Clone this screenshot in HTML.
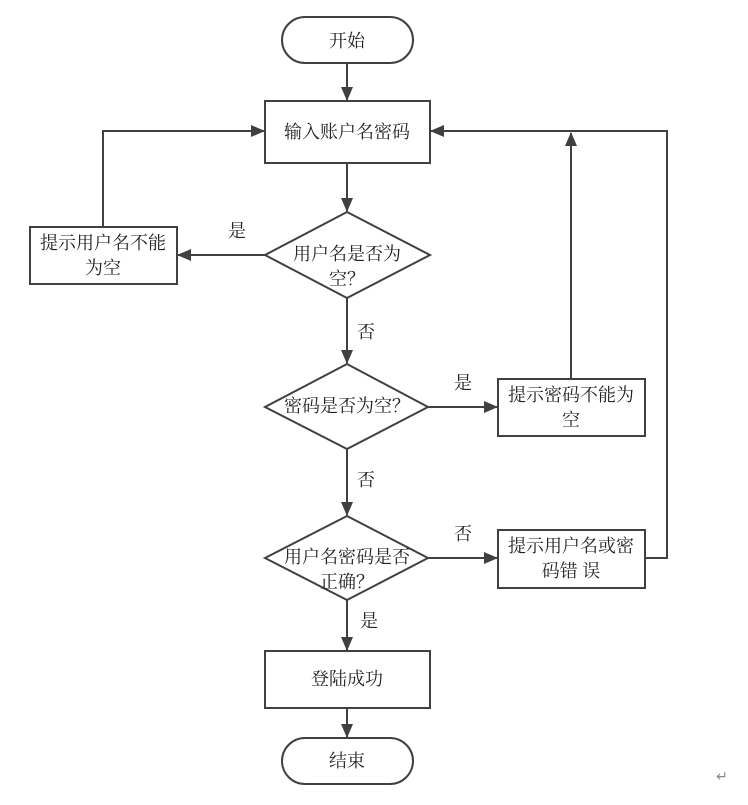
<!DOCTYPE html>
<html><head><meta charset="utf-8"><style>
body{margin:0;background:#fff;}
svg text{font-family:"Liberation Serif","Noto Serif CJK SC","Noto Sans CJK SC",serif;font-size:18px;fill:#222;}
</style></head><body>
<svg width="748" height="800" viewBox="0 0 748 800" xmlns="http://www.w3.org/2000/svg">
<defs><marker id="a" markerWidth="14" markerHeight="12" refX="13" refY="6" orient="auto" markerUnits="userSpaceOnUse"><path d="M0,0L14,6L0,12z" fill="#404040"/></marker></defs>
<g stroke="#404040" stroke-width="2" fill="none">
<rect x="282" y="17" width="131" height="46" rx="23"/>
<rect x="265" y="101" width="165" height="62"/>
<polygon points="347,212 430,255 347,298 265,255"/>
<rect x="30" y="227" width="147" height="57"/>
<polygon points="347,364 428,407 347,449 265,407"/>
<rect x="498" y="379" width="147" height="57"/>
<polygon points="347,516 428,558 347,600 265,558"/>
<rect x="498" y="530" width="147" height="58"/>
<rect x="265" y="651" width="165" height="57"/>
<rect x="282" y="738" width="131" height="46" rx="23"/>
<line x1="347" y1="63" x2="347" y2="100" marker-end="url(#a)"/>
<line x1="347" y1="163" x2="347" y2="211" marker-end="url(#a)"/>
<line x1="265" y1="255" x2="178" y2="255" marker-end="url(#a)"/>
<polyline points="103,227 103,131 264,131" marker-end="url(#a)"/>
<line x1="347" y1="298" x2="347" y2="363" marker-end="url(#a)"/>
<line x1="428" y1="407" x2="497" y2="407" marker-end="url(#a)"/>
<line x1="571" y1="379" x2="571" y2="133" marker-end="url(#a)"/>
<line x1="347" y1="449" x2="347" y2="515" marker-end="url(#a)"/>
<line x1="428" y1="558" x2="497" y2="558" marker-end="url(#a)"/>
<polyline points="645,558 667,558 667,131 431,131" marker-end="url(#a)"/>
<line x1="347" y1="600" x2="347" y2="650" marker-end="url(#a)"/>
<line x1="347" y1="708" x2="347" y2="737" marker-end="url(#a)"/>
</g>
<g text-anchor="middle">
<text x="347" y="47">开始</text>
<text x="347" y="138">输入账户名密码</text>
<text x="347" y="260">用户名是否为</text>
<text x="347" y="285">空？</text>
<text x="103" y="249">提示用户名不能</text>
<text x="103" y="274">为空</text>
<text x="347" y="412">密码是否为空？</text>
<text x="571" y="401">提示密码不能为</text>
<text x="571" y="426">空</text>
<text x="347" y="563">用户名密码是否</text>
<text x="347" y="588">正确？</text>
<text x="571" y="552">提示用户名或密</text>
<text x="571" y="577">码错 误</text>
<text x="347" y="685">登陆成功</text>
<text x="347" y="767">结束</text>
<text x="237" y="237">是</text>
<text x="366" y="338">否</text>
<text x="463" y="389">是</text>
<text x="366" y="486">否</text>
<text x="463" y="540">否</text>
<text x="369" y="627">是</text>
<text x="722" y="781" style="font-size:14px;fill:#888">↵</text>
</g>
</svg>
</body></html>
